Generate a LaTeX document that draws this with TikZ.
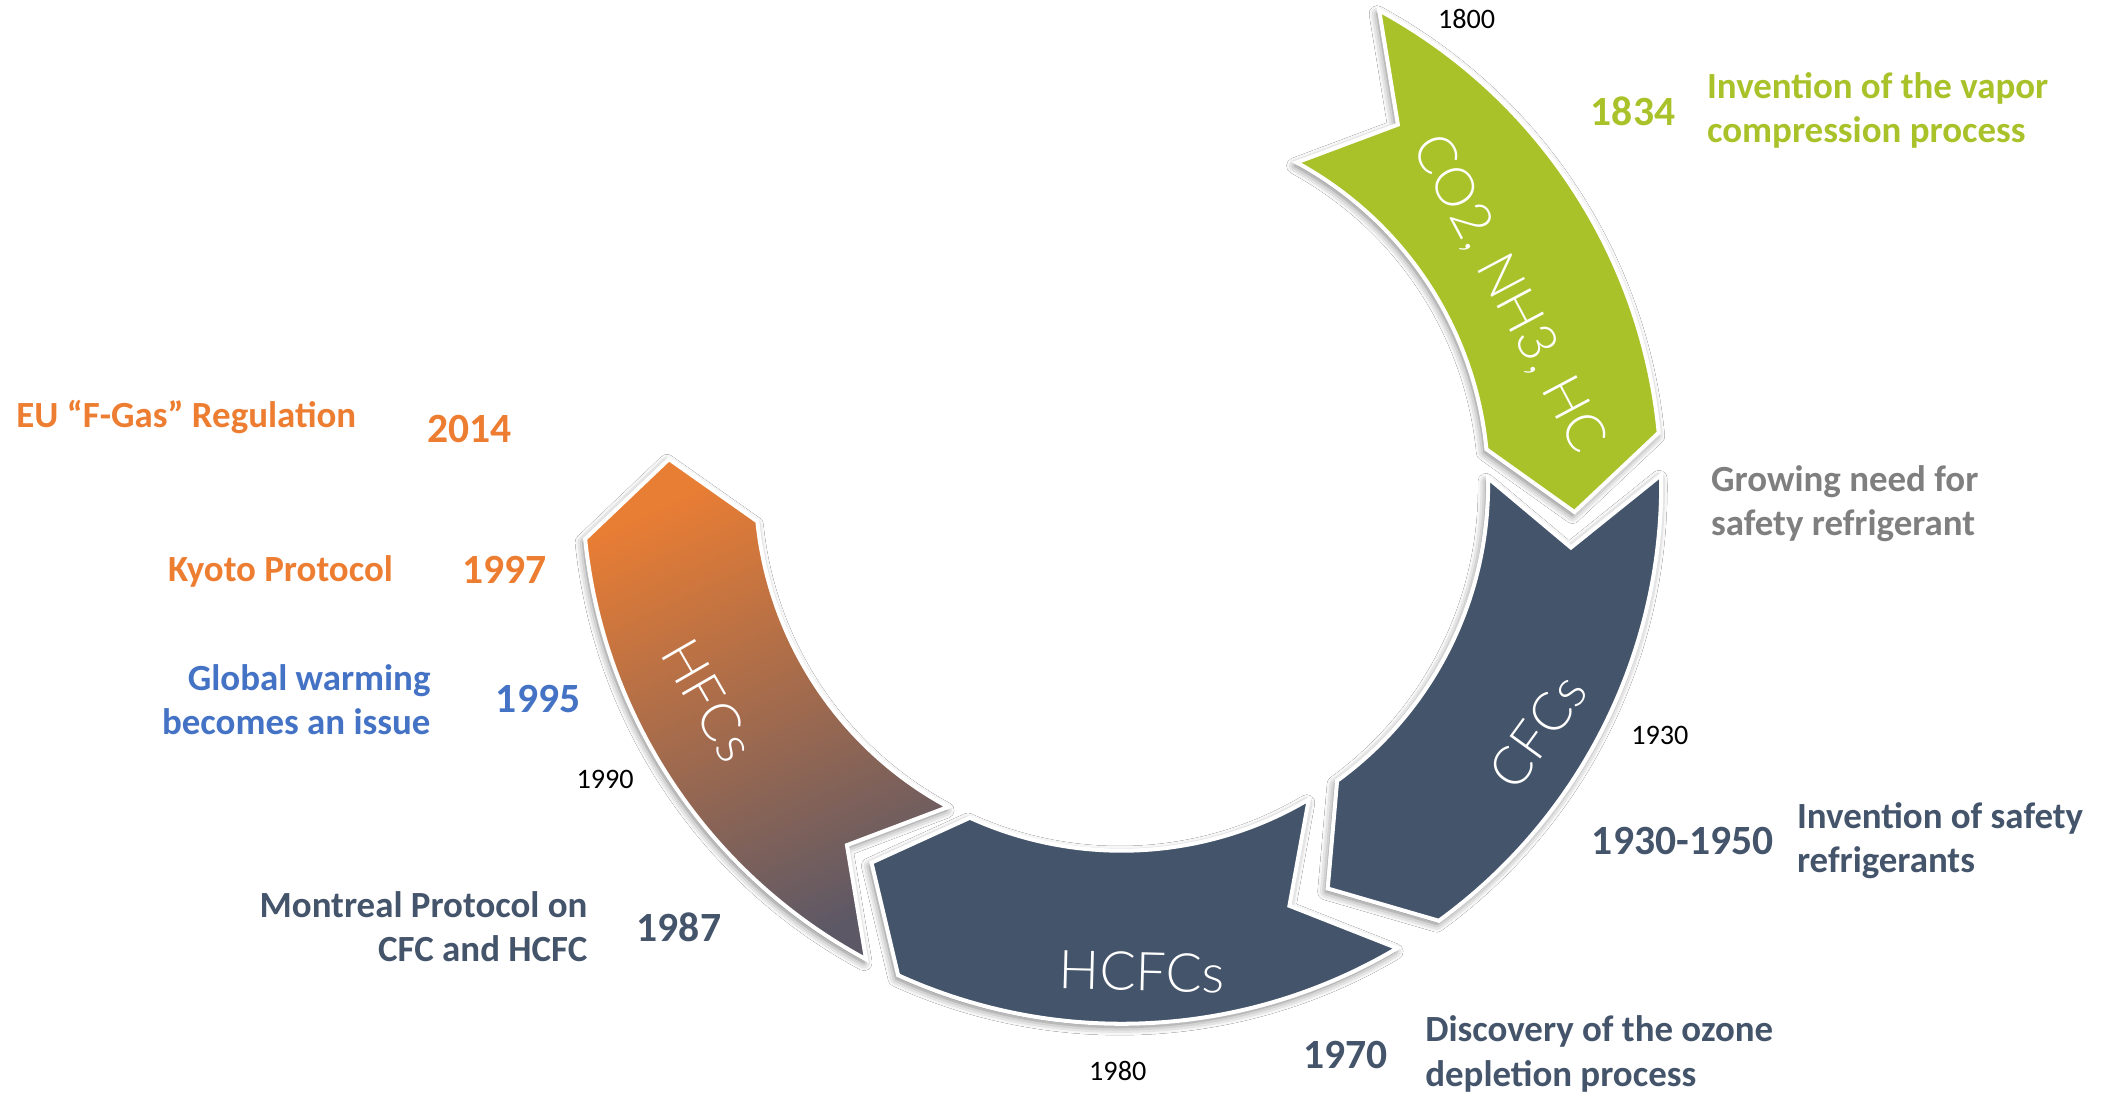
\documentclass[tikz,border=0pt]{standalone}
\usepackage{fontspec}
\setmainfont{Carlito}
\newfontfamily\lightfont{Lato Light}
\usetikzlibrary{shadows.blur}
\definecolor{cgreen}{RGB}{169,194,42}
\definecolor{cnavy}{RGB}{68,84,106}
\definecolor{corange}{RGB}{232,125,52}
\definecolor{ctorange}{RGB}{237,125,49}
\definecolor{cblue}{RGB}{68,114,196}
\definecolor{cgray}{RGB}{127,127,127}
\definecolor{cbrown}{RGB}{92,88,102}
\newcommand\segpath[2]{(#1:402pt) arc[start angle=#1, end angle=#2, radius=402pt]
  -- ({#2-9}:338pt) -- (#2:273pt) arc[start angle=#2, end angle=#1, radius=273pt]
  -- ({#1-9}:338pt) -- cycle}
\begin{document}
\begin{tikzpicture}[x=1pt,y=1pt,
  seg/.style={draw=white, line width=3pt, line join=miter,
    blur shadow={shadow xshift=-1.5pt, shadow yshift=-2.5pt, shadow blur radius=6pt, shadow opacity=55}},
  desc/.style={font=\bfseries\fontsize{27.5}{33}\selectfont, inner sep=0pt},
  yr/.style={font=\bfseries\fontsize{31}{36}\selectfont, inner sep=0pt},
  smallyr/.style={font=\fontsize{21}{25}\selectfont, inner sep=0pt, text=black},
  lbl/.style={font=\lightfont\fontsize{40}{46}\selectfont, text=white, inner sep=0pt}]
\useasboundingbox (0,0) rectangle (1568,816);
\fill[white] (0,0) rectangle (1568,816);
\begin{scope}[shift={(836,455)}]
  \path[seg, top color=corange, bottom color=cbrown, shading angle=25] \segpath{-118.3}{-174.2};
  \path[seg, fill=cnavy] \segpath{-59.3}{-114.5};
  \path[seg, fill=cnavy] \segpath{1}{-54};
  \path[seg, fill=cgreen] \segpath{61.5}{5.5};
\end{scope}
\node[lbl, rotate=-62] (lgreen) at (1124,597) {CO2, NH3, HC};
\node[lbl, rotate=54] (lcfc) at (1146,271) {CFCs};
\node[lbl, rotate=-1.5] (lhcfc) at (851,92) {HCFCs};
\node[lbl, rotate=-60] (lhfc) at (528,294) {HFCs};

\node[smallyr] (y1800) at (1093,802) {1800};
\node[yr, text=cgreen] (y1834) at (1217,733) {1834};
\node[desc, text=cgreen, anchor=west, align=left] (t1834) at (1272,733.5) {Invention of the vapor\\compression process};
\node[desc, text=cgray, anchor=west, align=left] (tneed) at (1275,440.5) {Growing need for\\safety refrigerant};
\node[smallyr] (y1930) at (1237,268) {1930};
\node[yr, text=cnavy] (y1930b) at (1254,189) {1930-1950};
\node[desc, text=cnavy, anchor=west, align=left] (t1930) at (1339,189.5) {Invention of safety\\refrigerants};
\node[yr, text=cnavy] (y1970) at (1003,30) {1970};
\node[desc, text=cnavy, anchor=west, align=left] (t1970) at (1062,30.5) {Discovery of the ozone\\depletion process};
\node[smallyr] (y1980) at (833,18) {1980};
\node[desc, text=ctorange, anchor=west] (t2014) at (12,505) {EU “F-Gas” Regulation};
\node[yr, text=ctorange] (y2014) at (350,496) {2014};
\node[desc, text=ctorange, anchor=east] (t1997) at (293,390) {Kyoto Protocol};
\node[yr, text=ctorange] (y1997) at (376,391) {1997};
\node[desc, text=cblue, anchor=east, align=right] (t1995) at (321,294.5) {Global warming\\becomes an issue};
\node[yr, text=cblue] (y1995) at (401,295) {1995};
\node[smallyr] (y1990) at (451,235) {1990};
\node[desc, text=cnavy, anchor=east, align=right] (t1987) at (438,125.5) {Montreal Protocol on\\CFC and HCFC};
\node[yr, text=cnavy] (y1987) at (506,125) {1987};
\end{tikzpicture}
\end{document}
